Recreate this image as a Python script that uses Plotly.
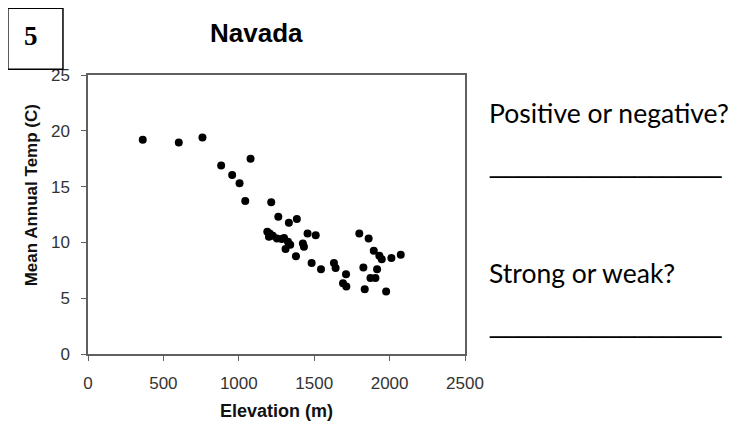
import plotly.graph_objects as go

# elevation (m) and mean annual temperature (C)
elevacion = [363, 602, 759, 883, 956, 1005, 1043, 1078, 1215, 1189, 1205, 1200,
             1253, 1284, 1262, 1332, 1385, 1326, 1341, 1310, 1456, 1510, 1425,
             1432, 1379, 1483, 1545, 1631, 1642, 1711, 1691, 1713, 1799, 1861,
             1895, 1932, 1948, 2012, 2074, 1826, 1917, 1873, 1906, 1835, 1977,
             1300, 1225]
temperatura = [19.2, 18.95, 19.4, 16.9, 16.05, 15.3, 13.7, 17.5, 13.6, 10.95, 10.8,
               10.5, 10.35, 10.3, 12.3, 11.75, 12.1, 10.05, 9.8, 9.4, 10.8, 10.65,
               9.9, 9.6, 8.75, 8.15, 7.6, 8.15, 7.7, 7.15, 6.35, 6.05, 10.8, 10.35,
               9.25, 8.8, 8.5, 8.6, 8.9, 7.75, 7.6, 6.8, 6.8, 5.8, 5.6,
               10.4, 10.6]

xticks = [0, 500, 1000, 1500, 2000, 2500]
yticks = [0, 5, 10, 15, 20, 25]

fig = go.Figure()
fig.add_trace(go.Scatter(x=elevacion, y=temperatura, mode='markers',
                         marker=dict(color='black', size=8), hoverinfo='x+y'))

eje = dict(showgrid=False, zeroline=False, showline=True, mirror=True,
           linecolor='#606060', linewidth=1.5, ticks='outside', ticklen=5,
           tickcolor='#606060', ticklabelstandoff=8,
           tickfont=dict(family='Liberation Sans', size=17, color='#333'))

fig.update_xaxes(range=[0, 2500], tickvals=xticks, **eje,
                 title=dict(text='<b>Elevation (m)</b>', standoff=12,
                            font=dict(family='Liberation Sans', size=18, color='#111')))
fig.update_yaxes(range=[0, 25], tickvals=yticks, **eje)

fig.update_layout(
    width=737, height=425, showlegend=False,
    plot_bgcolor='white', paper_bgcolor='white',
    margin=dict(l=80, r=280, t=67, b=79),
)

# y title sits a bit above the middle in the original, so it is an annotation
fig.add_annotation(text='<b>Mean Annual Temp (C)</b>', xref='paper', yref='paper',
                   x=-0.149, y=0.568, xanchor='center', yanchor='middle', textangle=-90,
                   showarrow=False, font=dict(family='Liberation Sans', size=17, color='#111'))

# box with question number
fig.add_shape(type='rect', xref='paper', yref='paper',
              x0=-0.2125, x1=-0.0664, y0=1.0205, y1=1.2394,
              line=dict(color='black', width=1.5), fillcolor='white')
fig.add_annotation(text='<b>5</b>', xref='paper', yref='paper', x=-0.151, y=1.1414,
                   xanchor='center', yanchor='middle', showarrow=False,
                   font=dict(family='Liberation Serif', size=27, color='black'))
fig.add_annotation(text='<b>Navada</b>', xref='paper', yref='paper', x=0.448, y=1.152,
                   xanchor='center', yanchor='middle', showarrow=False,
                   font=dict(family='Liberation Sans', size=26, color='black'))

lado = dict(family='Lato', size=26.5, color='black')
raya = dict(family='Liberation Sans', size=26, color='black')
fig.add_annotation(text='Positive or negative?', xref='paper', yref='paper', x=1.058, y=0.8636,
                   xanchor='left', yanchor='middle', showarrow=False, font=lado)
fig.add_annotation(text='________________', xref='paper', yref='paper', x=1.058, y=0.682,
                   xanchor='left', yanchor='middle', showarrow=False, font=raya)
fig.add_annotation(text='Strong or weak?', xref='paper', yref='paper', x=1.058, y=0.289,
                   xanchor='left', yanchor='middle', showarrow=False, font=lado)
fig.add_annotation(text='________________', xref='paper', yref='paper', x=1.058, y=0.1075,
                   xanchor='left', yanchor='middle', showarrow=False, font=raya)

fig.write_html("out.html")
